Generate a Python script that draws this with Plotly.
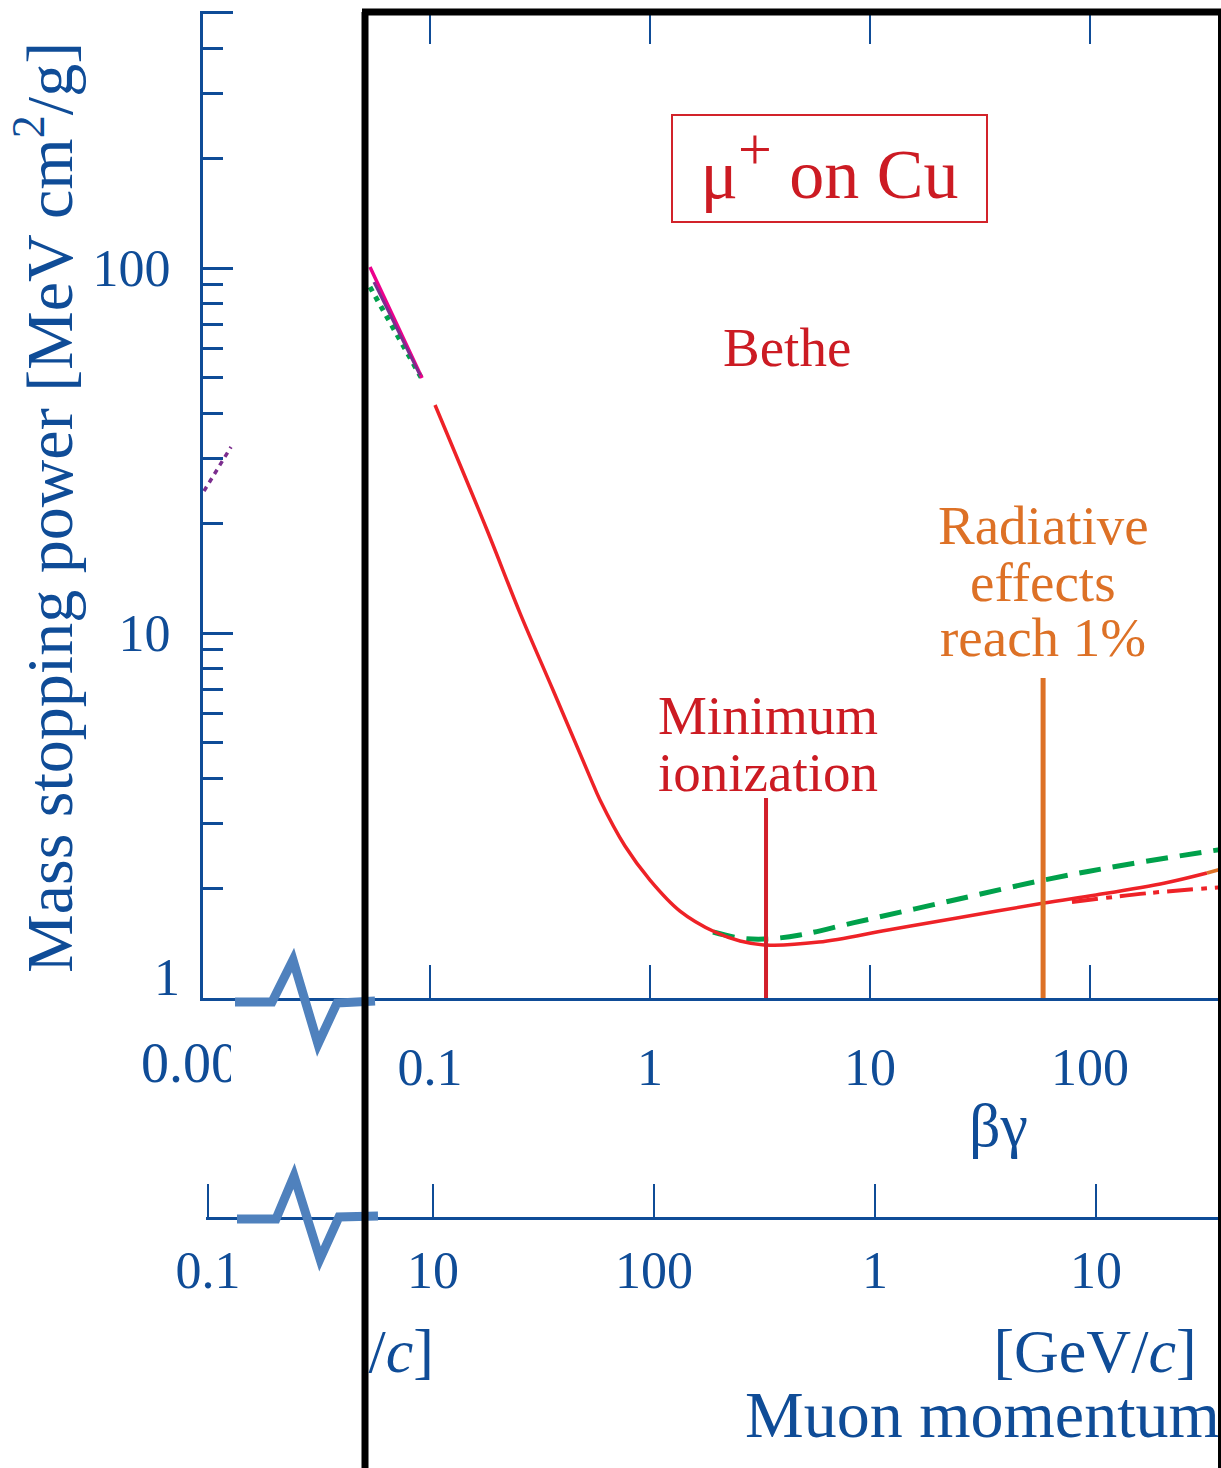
import plotly.graph_objects as go

W, H = 1221, 1468
FONT = "Liberation Serif"
BLUE = "#0f4c97"
RED_TXT = "#cc1b23"
RED_LINE = "#ee2227"
ORANGE = "#dd7126"
GREEN = "#00a14b"
MAGENTA = "#ec008c"
PURPLE = "#7b2d8e"
ZIG = "#4f81bd"

# ---------------- data ----------------
# Bethe curve: beta*gamma vs mass stopping power [MeV cm^2/g]
bethe_bg = [0.1054, 0.1816, 0.2565, 0.3623, 0.5336, 0.5926, 0.7697, 1.0, 1.369,
            1.975, 2.566, 3.368, 5.865, 12.07, 24.86, 61.8, 106.5, 219.3, 340.2]
bethe_sp = [42.15, 19.15, 11.34, 6.98, 4.03, 3.487, 2.609, 2.105, 1.731,
            1.516, 1.433, 1.397, 1.423, 1.536, 1.656, 1.820, 1.915, 2.066, 2.200]
# radiative continuation (orange)
rad_bg = [340.2, 410.9]
rad_sp = [2.200, 2.271]
# without density effect (green dashed)
nodelta_bg = [1.934, 2.566, 3.368, 4.805, 8.369, 23.1, 61.8, 152.0, 406.5]
nodelta_sp = [1.516, 1.460, 1.451, 1.488, 1.606, 1.844, 2.105, 2.329, 2.560]
# ionization only (red dash-dot)
ion_bg = [82.8, 187.4, 406.5]
ion_sp = [1.832, 1.940, 2.014]
# low-energy pieces (upper left)
az_bg = [0.05336, 0.09197]
az_sp = [100.6, 49.96]
az2_bg = [0.05565, 0.09006]
az2_sp = [91.5, 50.9]
lowdot_bg = [0.05336, 0.09197]
lowdot_sp = [88.7, 49.65]
lind_bg = [0.00939, 0.01246]
lind_sp = [24.49, 32.33]
# marker lines
minion_bg = [3.368, 3.368]
minion_sp = [1.0, 3.53]
radeff_bg = [61.2, 61.2]
radeff_sp = [1.0, 7.53]

# axis ticks
bg_ticks = [0.1, 1, 10, 100]
bg_ticktext = ["0.1", "1", "10", "100"]
sp_ticks = [10, 100]
sp_ticktext = ["10", "100"]
sp_end_ticks = [1, 500]
sp_minor = [2, 3, 4, 5, 6, 7, 8, 9, 20, 30, 40, 50, 60, 70, 80, 90, 200, 300, 400]
p_ticks = [0.96, 10, 100, 1000, 10000]     # MeV/c
p_ticktext = ["0.1", "10", "100", "1", "10"]

# ---------------- layout helpers (pixel geometry) ----------------
def fx(px):
    return px / W

def fy(py):
    return 1 - py / H

BG_X0, BG_DEC = 650, 220      # pixel of beta*gamma = 1, pixels per decade
SP_Y0, SP_DEC = 998, 365      # pixel of 1 MeV cm2/g, pixels per decade
P_X10, P_DEC = 433, 221       # pixel of 10 MeV/c, pixels per decade

fig = go.Figure()

def line(x, y, color, width, dash="solid", shape="linear"):
    fig.add_trace(go.Scatter(x=x, y=y, mode="lines",
                             line=dict(color=color, width=width, dash=dash, shape=shape),
                             showlegend=False, hoverinfo="skip"))

line(lind_bg, lind_sp, PURPLE, 3.5, "5px,5px")
line(lowdot_bg, lowdot_sp, GREEN, 5, "5px,6px")
line(az_bg, az_sp, MAGENTA, 3.5)
line(az2_bg, az2_sp, PURPLE, 3)
line(nodelta_bg, nodelta_sp, GREEN, 5, "22px,12px", "spline")
line(ion_bg, ion_sp, RED_LINE, 4, "26px,8px,6px,8px", "spline")
line(bethe_bg, bethe_sp, RED_LINE, 3.5, "solid", "spline")
line(rad_bg, rad_sp, ORANGE, 3.5)
line(minion_bg, minion_sp, "#d21f2a", 4)
line(radeff_bg, radeff_sp, ORANGE, 5)

# helper invisible traces to activate extra axes
for xa, ya, xv in (("x2", "y", 10), ("x5", "y", 1), ("x", "y5", 1)):
    fig.add_trace(go.Scatter(x=[xv], y=[1], xaxis=xa, yaxis=ya, mode="markers",
                             marker=dict(opacity=0), showlegend=False, hoverinfo="skip"))

# clipped texts (on their own pixel subplots)
fig.add_trace(go.Scatter(x=[434, 1095, 745], y=[1356, 1356, 1420], xaxis="x3", yaxis="y3",
                         mode="text", text=["[MeV/<i>c</i>]", "[GeV/<i>c</i>]", "Muon momentum"],
                         textposition=["middle left", "middle center", "middle right"],
                         textfont=dict(family=FONT, size=[62, 62, 66], color=BLUE),
                         cliponaxis=True, showlegend=False, hoverinfo="skip"))
fig.add_trace(go.Scatter(x=[141], y=[1068], xaxis="x4", yaxis="y4",
                         mode="text", text=["0.001"], textposition="middle right",
                         textfont=dict(family=FONT, size=56, color=BLUE),
                         cliponaxis=True, showlegend=False, hoverinfo="skip"))

y_top = (SP_Y0 - 11) / SP_DEC
axis_font = dict(family=FONT, size=52, color=BLUE)

fig.update_layout(
    width=W, height=H, margin=dict(l=0, r=0, t=0, b=0, pad=0, autoexpand=False),
    paper_bgcolor="white", plot_bgcolor="rgba(0,0,0,0)",
    showlegend=False,
    xaxis=dict(type="log", domain=[fx(203), 1], automargin=False,
               range=[(203 - BG_X0) / BG_DEC, (W - BG_X0) / BG_DEC],
               anchor="y", showline=True, linecolor=BLUE, linewidth=3,
               ticks="inside", ticklen=33, tickwidth=2, tickcolor=BLUE,
               tickvals=bg_ticks, ticktext=bg_ticktext, tickfont=axis_font,
               ticklabelstandoff=22, showgrid=False, zeroline=False),
    xaxis5=dict(type="log", overlaying="x", side="top", anchor="y", automargin=False,
                range=[(203 - BG_X0) / BG_DEC, (W - BG_X0) / BG_DEC],
                showline=False, ticks="inside", ticklen=33, tickwidth=2, tickcolor=BLUE,
                tickvals=bg_ticks, showticklabels=False, showgrid=False, zeroline=False),
    yaxis=dict(type="log", domain=[fy(SP_Y0), fy(11)], range=[0, y_top], automargin=False,
               anchor="x", showline=True, linecolor=BLUE, linewidth=3,
               ticks="inside", ticklen=30, tickwidth=3, tickcolor=BLUE,
               tickvals=sp_ticks, ticktext=sp_ticktext, tickfont=axis_font,
               ticklabelstandoff=19,
               minor=dict(tickvals=sp_minor, ticks="inside", ticklen=20, tickwidth=3,
                          tickcolor=BLUE, showgrid=False),
               showgrid=False, zeroline=False),
    yaxis5=dict(type="log", overlaying="y", side="left", anchor="x", range=[0, y_top],
                automargin=False, showline=False, ticks="inside", ticklen=30, tickwidth=3,
                tickcolor=BLUE, tickvals=sp_end_ticks, showticklabels=False,
                showgrid=False, zeroline=False),
    xaxis2=dict(type="log", domain=[fx(206), 1], automargin=False,
                range=[1 - (P_X10 - 206) / P_DEC, 1 + (W - P_X10) / P_DEC],
                anchor="free", position=fy(1218), showline=True, linecolor=BLUE, linewidth=2.5,
                ticks="inside", ticklen=33, tickwidth=2, tickcolor=BLUE,
                tickvals=p_ticks, ticktext=p_ticktext, tickfont=axis_font,
                ticklabelstandoff=6, showgrid=False, zeroline=False),
    xaxis3=dict(domain=[fx(368), 1], range=[368, W], visible=False, anchor="y3", automargin=False),
    yaxis3=dict(domain=[0, fy(1300)], range=[H, 1300], visible=False, anchor="x3", automargin=False),
    xaxis4=dict(domain=[0, fx(231)], range=[0, 231], visible=False, anchor="y4", automargin=False),
    yaxis4=dict(domain=[fy(1110), fy(1030)], range=[1110, 1030], visible=False, anchor="x4",
                automargin=False),
)

def ann(text, px, py, size, color, **kw):
    fig.add_annotation(text=text, x=fx(px), y=fy(py), xref="paper", yref="paper",
                       showarrow=False, font=dict(family=FONT, size=size, color=color),
                       xanchor="center", yanchor="middle", **kw)

ann("Mass stopping power [MeV cm<sup>2</sup>/g]", 44, 508, 66, BLUE, textangle=-90)
ann("1", 167, 977, 52, BLUE)
ann("βγ", 998, 1125, 62, BLUE)
ann("Bethe", 787, 347, 55, RED_TXT)
ann("Minimum", 768, 715, 55, RED_TXT)
ann("ionization", 768, 772, 55, RED_TXT)
ann("Radiative", 1043, 525, 55, ORANGE)
ann("effects", 1043, 582, 55, ORANGE)
ann("reach 1%", 1043, 638, 55, ORANGE)
ann("μ<sup><span style='font-size:60px'>+</span></sup> on Cu", 829, 168, 70, RED_TXT,
    bordercolor="#d2232a", borderwidth=2, borderpad=0, width=313, height=105, valign="top")

# axis-break symbols
def zig(points):
    return "M " + " L ".join(f"{fx(a):.5f},{fy(b):.5f}" for a, b in points)

for pts in ([(235, 1002), (272, 1002), (293, 960), (318, 1044), (337, 1003), (375, 1001)],
            [(237, 1219), (276, 1219), (294, 1176), (320, 1259), (339, 1217), (378, 1216)]):
    fig.add_shape(type="path", path=zig(pts), xref="paper", yref="paper",
                  line=dict(color=ZIG, width=9), layer="above")

# panel frame
for x0, y0, x1, y1, w in [(365, 12, 365, H, 7), (362, 12, W, 12, 7), (1220, 12, 1220, H, 4)]:
    fig.add_shape(type="line", x0=fx(x0), y0=fy(y0), x1=fx(x1), y1=fy(y1),
                  xref="paper", yref="paper", line=dict(color="black", width=w),
                  layer="above")

fig.write_html("out.html", config={"displayModeBar": False},
               post_script="document.body.style.margin='0';"
               "document.body.style.overflow='hidden';")
